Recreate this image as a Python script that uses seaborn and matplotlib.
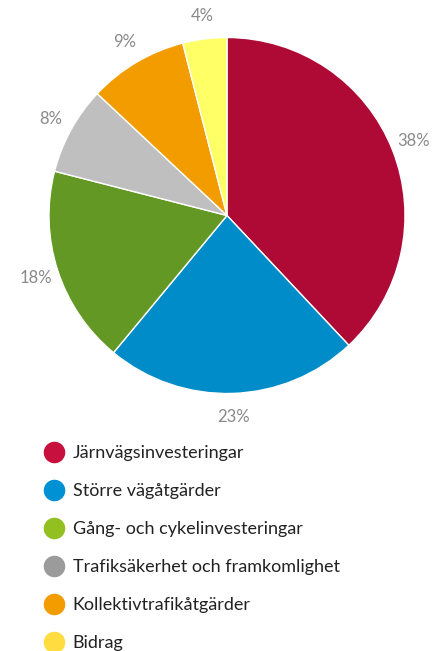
import matplotlib
matplotlib.use("Agg")
import matplotlib.pyplot as plt
from matplotlib.lines import Line2D
import seaborn as sns

categories = ["Järnvägsinvesteringar", "Större vägåtgärder", "Gång- och cykelinvesteringar",
              "Trafiksäkerhet och framkomlighet", "Kollektivtrafikåtgärder", "Bidrag"]
values = [38, 23, 18, 8, 9, 4]
pie_colors = ["#AE0A35", "#008BC9", "#629823", "#BFBFBF", "#F39C00", "#FFFF66"]
legend_colors = ["#C8103E", "#0090D4", "#92C020", "#9B9B9B", "#F39C00", "#FFDC40"]

sns.set_theme(style="white")
plt.rcParams["font.family"] = ["Lato", "DejaVu Sans"]

W, H = 438, 651
fig = plt.figure(figsize=(W / 100, H / 100), dpi=100)
cx, cy, r = 227, 215.5, 178
ax = fig.add_axes([(cx - r) / W, (H - cy - r) / H, 2 * r / W, 2 * r / H])
wedges, texts = ax.pie(values, colors=pie_colors, startangle=90, counterclock=False,
                       labels=[f"{v}%" for v in values], labeldistance=1.13,
                       wedgeprops=dict(edgecolor="white", linewidth=1),
                       textprops=dict(color="#8A8A8A", fontsize=12))
for t in texts:
    t.set_horizontalalignment("center")
    t.set_verticalalignment("center")
ax.set_xlim(-1, 1)
ax.set_ylim(-1, 1)
ax.set_aspect("equal")
ax.axis("off")

handles = [Line2D([], [], marker="o", linestyle="", markersize=14.5,
                  markerfacecolor=c, markeredgecolor=c) for c in legend_colors]
fig.legend(handles, categories, loc="upper left", bbox_to_anchor=(43 / W, 1 - 445 / H),
           frameon=False, fontsize=13, labelcolor="#222222", handletextpad=0.45,
           labelspacing=1.22, borderpad=0, borderaxespad=0, handlelength=1.2)

fig.savefig("out.png", dpi=100)
